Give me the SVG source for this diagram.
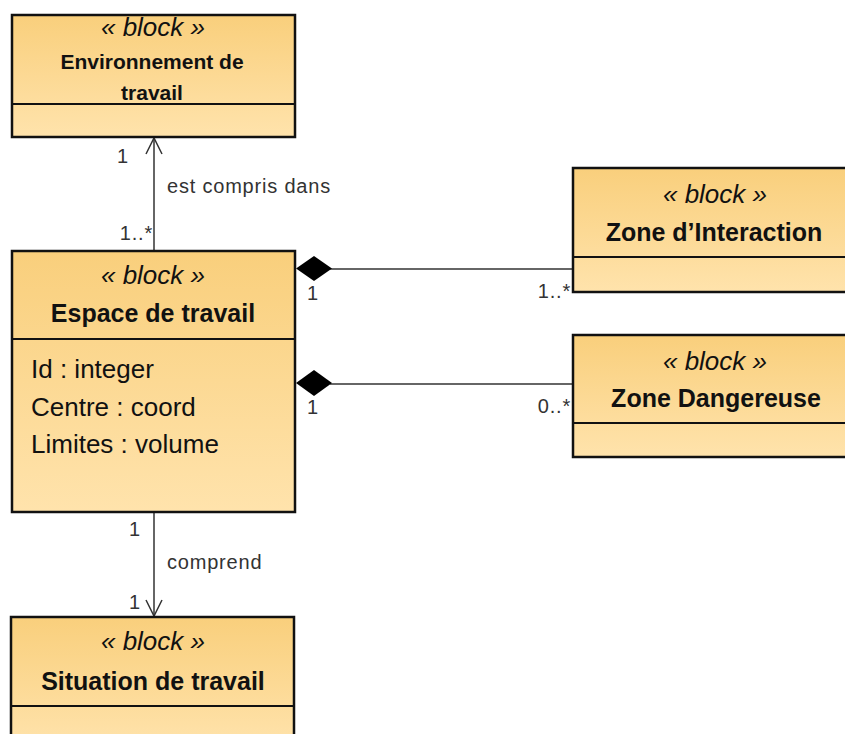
<svg xmlns="http://www.w3.org/2000/svg" width="845" height="734" viewBox="0 0 845 734">
<defs>
<linearGradient id="g" x1="0" y1="0" x2="0" y2="1">
<stop offset="0" stop-color="#F9CF7C"/>
<stop offset="1" stop-color="#FFE3AC"/>
</linearGradient>
<marker id="open" viewBox="0 0 20 20" refX="18" refY="10" markerWidth="20" markerHeight="20" markerUnits="userSpaceOnUse" orient="auto">
<path d="M2,2 L18,10 L2,18" fill="none" stroke="#333" stroke-width="1.5"/>
</marker>
</defs>
<style>
.box{fill:url(#g);stroke:#111;stroke-width:2.5}
.div{stroke:#111;stroke-width:2}
.st{font-family:"Liberation Sans",Arial,sans-serif;font-style:italic;font-size:26px;fill:#111;text-anchor:middle}
.ti{font-family:"Liberation Sans",Arial,sans-serif;font-weight:bold;font-size:25px;fill:#111;text-anchor:middle}
.ti2{font-family:"Liberation Sans",Arial,sans-serif;font-weight:bold;font-size:21px;fill:#111;text-anchor:middle}
.at{font-family:"Liberation Sans",Arial,sans-serif;font-size:26px;fill:#111}
.lb{font-family:"Liberation Sans",Arial,sans-serif;font-size:20px;letter-spacing:0.8px;fill:#333}
.e{text-anchor:end}
.ln{stroke:#333;stroke-width:1.5;fill:none}
</style>
<rect width="845" height="734" fill="#fff"/>
<g id="connectors">
<line class="ln" x1="154" y1="250" x2="154" y2="138" marker-end="url(#open)"/>
<line class="ln" x1="154" y1="513" x2="154" y2="616" marker-end="url(#open)"/>
<line class="ln" x1="330" y1="269" x2="573" y2="269"/>
<polygon points="296,268.5 314,256 332,268.5 314,281" fill="#000"/>
<line class="ln" x1="330" y1="384" x2="573" y2="384"/>
<polygon points="296,383 314,370 332,383 314,396" fill="#000"/>
<text class="lb e" x="129" y="163">1</text>
<text class="lb" x="167" y="193">est compris dans</text>
<text class="lb e" x="153" y="240">1..*</text>
<text class="lb" x="307" y="300">1</text>
<text class="lb e" x="571" y="298">1..*</text>
<text class="lb" x="307" y="414">1</text>
<text class="lb e" x="571" y="413">0..*</text>
<text class="lb e" x="141" y="536">1</text>
<text class="lb" x="167" y="569">comprend</text>
<text class="lb e" x="141" y="609">1</text>
</g>
<g id="env">
<rect class="box" x="12" y="15" width="283" height="122"/>
<line class="div" x1="12" y1="104" x2="295" y2="104"/>
<text class="st" x="153" y="36">« block »</text>
<text class="ti2" x="152" y="69">Environnement de</text>
<text class="ti2" x="152" y="100">travail</text>
</g>
<g id="espace">
<rect class="box" x="12" y="251" width="283" height="261"/>
<line class="div" x1="12" y1="339" x2="295" y2="339"/>
<text class="st" x="153" y="284">« block »</text>
<text class="ti" x="153" y="322">Espace de travail</text>
<text class="at" x="31" y="378">Id : integer</text>
<text class="at" x="31" y="416">Centre : coord</text>
<text class="at" x="31" y="453">Limites : volume</text>
</g>
<g id="interaction">
<rect class="box" x="573" y="168" width="285" height="124"/>
<line class="div" x1="573" y1="257" x2="858" y2="257"/>
<text class="st" x="715" y="203">« block »</text>
<text class="ti" x="714" y="241">Zone d’Interaction</text>
</g>
<g id="dangereuse">
<rect class="box" x="573" y="335" width="285" height="122"/>
<line class="div" x1="573" y1="423" x2="858" y2="423"/>
<text class="st" x="715" y="370">« block »</text>
<text class="ti" x="716" y="407">Zone Dangereuse</text>
</g>
<g id="situation">
<rect class="box" x="11" y="617" width="283" height="130"/>
<line class="div" x1="11" y1="706" x2="294" y2="706"/>
<text class="st" x="153" y="650">« block »</text>
<text class="ti" x="153" y="690">Situation de travail</text>
</g>
</svg>
